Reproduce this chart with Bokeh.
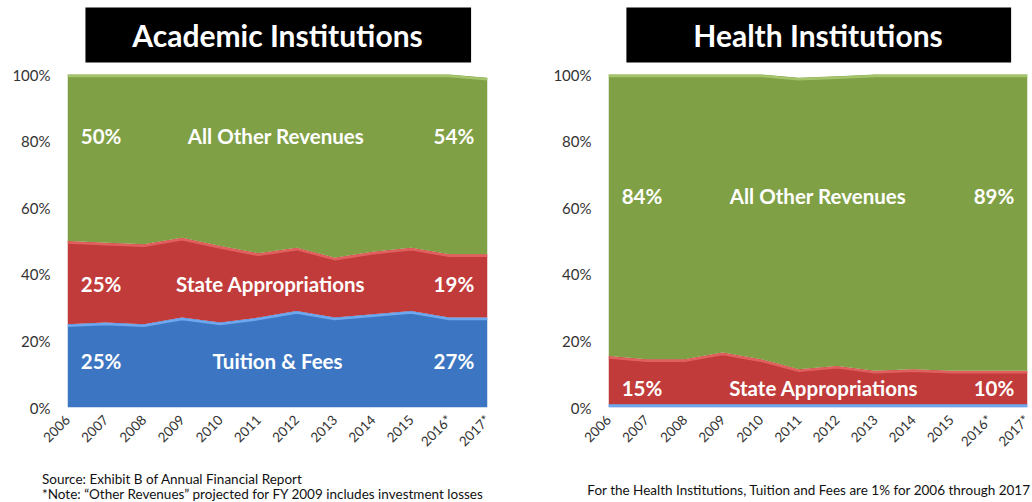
import math
from bokeh.plotting import figure
from bokeh.models import ColumnDataSource, Range1d, FixedTicker, PrintfTickFormatter, Div
from bokeh.layouts import row, column
from bokeh.core.properties import value
from bokeh.embed import file_html
from bokeh.resources import INLINE

# ---------------- data ----------------
years = ["2006", "2007", "2008", "2009", "2010", "2011", "2012", "2013",
         "2014", "2015", "2016*", "2017*"]

acad_tuition = [25, 25.5, 25, 27, 25.5, 27, 29, 27, 28, 29, 27, 27]
acad_state = [25, 24, 24, 24, 23, 19.3, 19, 18, 18.8, 19, 19, 19]
acad_other = [50, 50.5, 51, 49, 51.5, 53.7, 52, 55, 53.2, 52, 54, 53]

health_tuition = [1, 1, 1, 1, 1, 1, 1, 1, 1, 1, 1, 1]
health_state = [14.5, 13.5, 13.5, 15.5, 13.5, 10.5, 11.5, 10, 10.5, 10, 10, 10]
health_other = [84.5, 85.5, 85.5, 83.5, 85.5, 87.5, 87, 89, 88.5, 89, 89, 89]

acad_labels = {"other": ("50%", "All Other Revenues", "54%"),
               "state": ("25%", "State Appropriations", "19%"),
               "tuition": ("25%", "Tuition & Fees", "27%")}
health_labels = {"other": ("84%", "All Other Revenues", "89%"),
                 "state": ("15%", "State Appropriations", "10%")}

titles = ["Academic Institutions", "Health Institutions"]
y_ticks = [0, 20, 40, 60, 80, 100]
note_left_1 = "Source: Exhibit B of Annual Financial Report"
note_left_2 = "*Note: \u201cOther Revenues\u201d projected for FY 2009 includes investment losses"
note_right = "For the Health Institutions, Tuition and Fees are 1% for 2006 through 2017"

# ---------------- style ----------------
FONT = "Lato"
BLUE, RED, GREEN = "#3C76C2", "#C13B3A", "#80A046"
BLUE_HI, RED_HI, GREEN_HI = "#6EA7EE", "#E0605E", "#A4C46A"
TICK_COLOR = "#333333"

FIG_H = 472
FRAME_H = 407                       # frame top at canvas top, 0% at 407 px
BOTTOM = FIG_H - FRAME_H
PX_PER_100 = 333                    # 0..100 % spans 333 px
Y_TOP = 100 * FRAME_H / PX_PER_100


def make_fig(width, left, frame_w, tuition, state, other, labels, title):
    right = width - left - frame_w
    p = figure(width=width, height=FIG_H, output_backend="svg", toolbar_location=None,
               x_range=Range1d(0, 11), y_range=Range1d(0, Y_TOP),
               min_border_left=left, min_border_right=right,
               min_border_top=0, min_border_bottom=BOTTOM)
    p.outline_line_color = None
    p.grid.visible = False
    p.background_fill_color = "white"
    p.border_fill_color = "white"

    x = list(range(len(years)))
    src = ColumnDataSource(dict(x=x, tuition=tuition, state=state, other=other))
    p.varea_stack(stackers=["tuition", "state", "other"], x="x",
                  color=[BLUE, RED, GREEN], source=src)

    cum1 = [a for a in tuition]
    cum2 = [a + b for a, b in zip(tuition, state)]
    cum3 = [a + b + c for a, b, c in zip(tuition, state, other)]
    for cum, col in ((cum1, BLUE_HI), (cum2, RED_HI), (cum3, GREEN_HI)):
        p.line(x, [c - 0.45 for c in cum], line_color=col, line_width=2.5)

    # axes
    p.yaxis.ticker = FixedTicker(ticks=y_ticks)
    p.yaxis.formatter = PrintfTickFormatter(format="%d%%")
    p.xaxis.ticker = FixedTicker(ticks=x)
    p.xaxis.major_label_overrides = {i: yr for i, yr in enumerate(years)}
    p.xaxis.major_label_orientation = math.pi / 4
    for ax in (p.xaxis, p.yaxis):
        ax.axis_line_color = None
        ax.major_tick_line_color = None
        ax.minor_tick_line_color = None
        ax.major_tick_out = 0
        ax.major_tick_in = 0
        ax.major_label_text_font = FONT
        ax.major_label_text_color = TICK_COLOR
    p.yaxis.major_label_text_font_size = "15px"
    p.yaxis.major_label_standoff = 17
    p.xaxis.major_label_text_font_size = "13.5px"
    p.xaxis.major_label_standoff = 10

    # title box (above the 100% line, inside the frame)
    p.quad(left=0.47, right=10.57, bottom=103.6, top=120.1, fill_color="black", line_color=None)
    p.text(x=[5.5], y=[111.9], text=[title], text_color="white",
           text_font=value(FONT), text_font_style="bold", text_font_size="30px",
           text_align="center", text_baseline="middle")

    # area labels
    for key, ypos in labels["pos"]:
        l, c, r = labels[key]
        p.text(x=[0.88, labels["cx"][key], 10.12], y=[ypos, ypos, ypos], text=[l, c, r],
               text_color="white", text_font=value(FONT), text_font_style="bold",
               text_font_size="20.5px", text_align="center", text_baseline="middle")
    return p


acad_labels["pos"] = [("other", 81.5), ("state", 37.0), ("tuition", 14.0)]
acad_labels["cx"] = {"other": 5.46, "state": 5.32, "tuition": 5.5}
health_labels["pos"] = [("other", 63.5), ("state", 6.0)]
health_labels["cx"] = {"other": 5.5, "state": 5.65}

p1 = make_fig(520, 67, 420, acad_tuition, acad_state, acad_other, acad_labels, titles[0])
p2 = make_fig(512, 88, 419, health_tuition, health_state, health_other, health_labels, titles[1])

foot_style = "font-family:Lato;font-size:13.5px;color:#111111;line-height:15px;white-space:nowrap;"
foot_left = Div(text=f'<div style="{foot_style}padding-left:42px;">{note_left_1}<br>{note_left_2}</div>',
                width=520, height=30, margin=0, styles={"overflow": "hidden"})
foot_right = Div(text=f'<div style="{foot_style}width:510px;text-align:right;padding-top:11px;">{note_right}</div>',
                 width=512, height=30, margin=0, styles={"overflow": "hidden"})

layout = column(row(p1, p2), row(foot_left, foot_right))
open("out.html", "w").write(file_html(layout, INLINE))
